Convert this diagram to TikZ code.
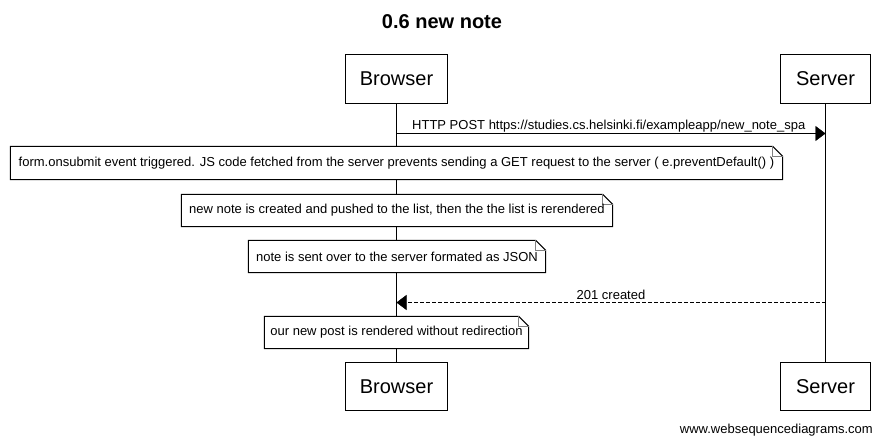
\documentclass[tikz,border=0pt]{standalone}
\usepackage{fontspec}
\setmainfont{Liberation Sans}
\usetikzlibrary{arrows.meta}
\pgfdeclarelayer{bg}
\pgfdeclarelayer{mid}
\pgfsetlayers{bg,mid,main}
\newcommand\notedraw[1]{%
  \begin{pgfonlayer}{mid}
  \draw[line width=1pt,fill=white] (#1.north west) -- ([xshift=-10pt]#1.north east) -- ([yshift=-10pt]#1.north east) -- (#1.south east) -- (#1.south west) -- cycle;
  \draw[line width=1pt,gray] ([xshift=-10pt]#1.north east) -- ([xshift=-10pt,yshift=-10pt]#1.north east) -- ([yshift=-10pt]#1.north east);
  \end{pgfonlayer}}
\begin{document}
\begin{tikzpicture}[x=1pt,y=-1pt,line width=1pt,
  actor/.style={draw,fill=white,minimum height=49pt,inner sep=0pt,font=\fontsize{20}{24}\selectfont},
  notebox/.style={minimum height=32pt,inner sep=0pt,font=\fontsize{13}{15}\selectfont},
  msg/.style={-{Triangle[length=10pt,width=15pt]}},
  lbl/.style={font=\fontsize{13}{15}\selectfont,inner sep=0pt},
]
\useasboundingbox (0,0) rectangle (884,445);
\node[font=\bfseries\fontsize{20}{24}\selectfont,inner sep=0pt] (title) at (442,22) {0.6 new note};

\node[actor,minimum width=102pt] (bt) at (396.5,79) {Browser};
\node[actor,minimum width=90pt] (st) at (825.5,79) {Server};
\node[actor,minimum width=102pt,minimum height=48pt] (bb) at (396.5,386.5) {Browser};
\node[actor,minimum width=90pt,minimum height=48pt] (sb) at (825.5,386.5) {Server};

\begin{pgfonlayer}{bg}
\draw[line width=1pt] (bt.south) -- (bb.north);
\draw[line width=1pt] (st.south) -- (sb.north);
\end{pgfonlayer}

% message 1
\coordinate (m1b) at (396.5,133.5);
\coordinate (m1s) at (825.5,133.5);
\draw[msg] (m1b) -- (m1s);
\node[lbl,anchor=base west] (l1) at (412,129.5) {HTTP POST https://studies.cs.helsinki.fi/exampleapp/new\_note\_spa};

% notes
\node[notebox,minimum width=772pt,minimum height=33pt] (n1) at (396.5,163) {form.onsubmit event triggered. JS code fetched from the server prevents sending a GET request to the server ( e.preventDefault() )};
\notedraw{n1}
\node[notebox,minimum width=431pt] (n2) at (397,210.5) {new note is created and pushed to the list, then the the list is rerendered};
\notedraw{n2}
\node[notebox,minimum width=297pt] (n3) at (397,256.5) {note is sent over to the server formated as JSON};
\notedraw{n3}

% message 2
\coordinate (m2s) at (825.5,302.5);
\coordinate (m2b) at (396.5,302.5);
\draw[msg,dash pattern=on 4pt off 2pt] (m2s) -- (m2b);
\node[lbl,anchor=base] (l2) at (611,299) {201 created};

\node[notebox,minimum width=264pt] (n4) at (396.5,332.5) {our new post is rendered without redirection};
\notedraw{n4}

\node[font=\fontsize{13}{15}\selectfont,inner sep=0pt,anchor=east] (foot) at (873,430) {www.websequencediagrams.com};
\end{tikzpicture}
\end{document}
